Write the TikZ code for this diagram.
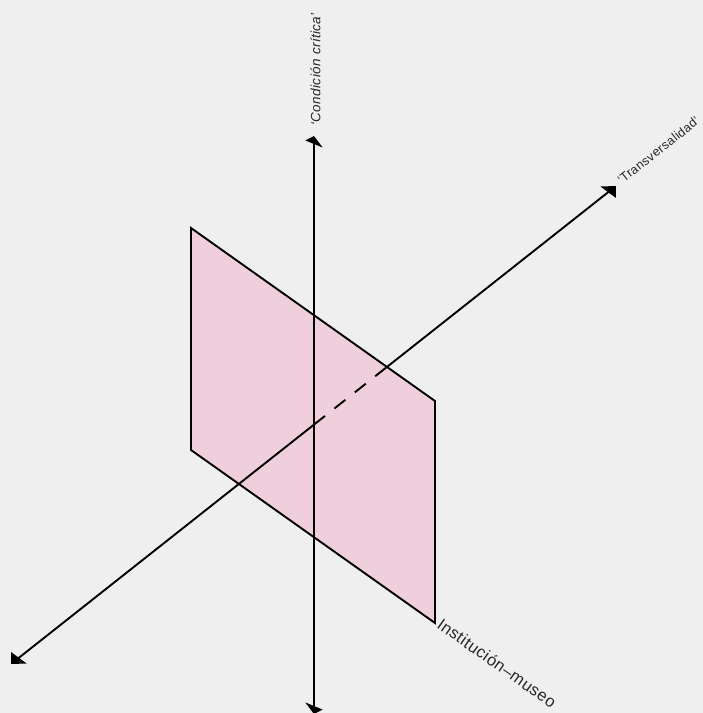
\documentclass[tikz,border=0pt]{standalone}
\usepackage{fontspec}
\setmainfont{Liberation Sans}
\newfontfamily\labfont[LetterSpace=3]{Liberation Sans}
\usetikzlibrary{arrows.meta,intersections}
\definecolor{bg}{RGB}{239,239,239}
\definecolor{planepink}{RGB}{240,207,220}
\begin{document}
\begin{tikzpicture}[x=1pt,y=-1pt,
  axis/.style={line width=1.9pt,black},
  vhead/.style={-{Triangle[length=8pt,width=17pt,slant=0.41]}},
  dhead/.style={-{Triangle[length=10pt,width=18pt,slant=-0.27]}},
  plane/.style={fill=planepink,draw=black,line width=1.9pt},
  lab/.style={inner sep=0pt,text=black!85}]
\useasboundingbox (0,0) rectangle (703,713);
\clip (0,0) rectangle (703,713);
\fill[bg] (0,0) rectangle (703,713);
\coordinate (vtop) at (314,136);
\coordinate (vbot) at (314,714);
\coordinate (dtr) at (616,186);
\coordinate (dbl) at (11,664);
\coordinate (p1) at (191,228);
\coordinate (p2) at (435,401);
\coordinate (p3) at (435,623);
\coordinate (p4) at (191,450);
\path[name path=dg] (dtr) -- (dbl);
\path[name path=te] (p1) -- (p2);
\path[name path=vl] (vtop) -- (vbot);
\path[name intersections={of=dg and te,by=c1}];
\path[name intersections={of=dg and vl,by=c2}];
\draw[plane] (p1) -- (p2) -- (p3) -- (p4) -- cycle;
\draw[axis,dhead] (c1) -- (dtr);
\draw[axis,dash pattern=on 14pt off 12pt] (c2) -- (c1);
\draw[axis,dhead] (c2) -- (dbl);
\draw[axis,vhead] (c2) -- (vtop);
\draw[axis,vhead] (c2) -- (vbot);
\node[lab,font=\labfont\itshape\fontsize{13.5}{15}\selectfont,rotate=90,anchor=west] (lc) at (315.5,126) {‘Condición crítica’};
\node[lab,font=\labfont\fontsize{12.5}{14}\selectfont,rotate=38.3,anchor=south west] (lt) at (622,185) {‘Transversalidad’};
\node[lab,font=\labfont\fontsize{16.5}{18}\selectfont,rotate=-35.3,anchor=north west] (li) at (443,617) {Institución–museo};
\end{tikzpicture}
\end{document}
